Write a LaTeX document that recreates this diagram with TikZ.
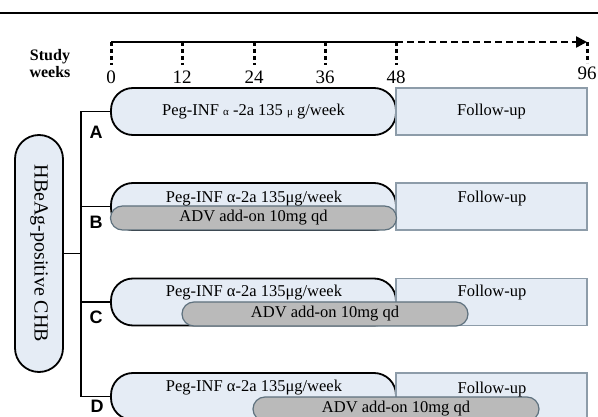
\documentclass[tikz,border=0pt]{standalone}
\usepackage{fontspec}
\setmainfont{Liberation Serif}
\setsansfont{Liberation Sans}
\usetikzlibrary{arrows.meta}
\definecolor{paleblue}{HTML}{E5ECF5}
\definecolor{fubord}{HTML}{8D9CA9}
\definecolor{advgray}{HTML}{BABABA}
\definecolor{advbord}{HTML}{5E717E}

\begin{document}
\begin{tikzpicture}[x=1pt, y=-1pt, line width=1.8pt,
    pegbox/.style = {draw, fill=paleblue, rounded corners=22pt, minimum width=285pt, minimum height=47pt, inner sep=0pt},
    fubox/.style = {draw=fubord, line width=1.2pt, fill=paleblue, minimum width=191pt, minimum height=47pt, inner sep=0pt},
    advbox/.style = {draw=advbord, line width=1.2pt, fill=advgray, rounded corners=12pt, minimum width=286pt, minimum height=24pt, inner sep=0pt},
    txt/.style = {font=\fontsize{16.5}{18}\selectfont, inner sep=0pt},
    armlabel/.style = {font=\sffamily\bfseries\fontsize{18}{20}\selectfont, inner sep=0pt},
    weeklabel/.style = {font=\fontsize{19}{20}\selectfont, inner sep=0pt},
    tickline/.style = {line width=3pt, dash pattern=on 4pt off 3pt}]
      \useasboundingbox (0,0) rectangle (598,417);
      \clip (0,0) rectangle (598,417);
      \draw [line width=2.2pt] (0,13) -- (598,13);
      \node [font=\bfseries\fontsize{16}{18}\selectfont, align=center, inner sep=0pt] (studyweeks) at (50,64) {Study\\[-1pt]weeks};
      \foreach \w/\x in {0/111, 12/182, 24/254, 36/325, 48/396}{
        \coordinate (t\w) at (\x,42);
        \draw [tickline] (t\w) -- ++(0,23);
        \node [weeklabel] (l\w) at (\x,77) {\w};
      }
      \coordinate (t96) at (587,42);
      \draw [tickline] (t96) -- ++(0,21);
      \node [weeklabel] (l96) at (587,73) {96};
      \draw [line width=2.8pt] (t0) -- (t48);
      \draw [line width=2.5pt, dash pattern=on 7pt off 4pt, -{Triangle[length=11pt, width=11pt]}] (t48) -- (t96);
      \node [pegbox] (pegA) at (253.5,111.5){};
      \node [pegbox] (pegB) at (253.5,206.5){};
      \node [pegbox] (pegC) at (253.5,302){};
      \node [pegbox] (pegD) at (253.5,396.5){};
      \node [fubox] (fuA) at (491.5,111.5){};
      \node [fubox] (fuB) at (491.5,206.5){};
      \node [fubox] (fuC) at (491.5,302){};
      \node [fubox] (fuD) at (491.5,396.5){};
      \node [advbox] (advB) at (253.5,218){};
      \node [advbox] (advC) at (325,314){};
      \node [advbox] (advD) at (396,409){};
      \node [txt] (pegAtxt) at (pegA) {Peg-INF {\fontsize{11}{12}\selectfont α} -2a 135 {\fontsize{11}{12}\selectfont μ} g/week};
      \node [txt] (pegBtxt) at (254,199) {Peg-INF α-2a 135μg/week};
      \node [txt] (pegCtxt) at (254,293) {Peg-INF α-2a 135μg/week};
      \node [txt] (pegDtxt) at (254,388) {Peg-INF α-2a 135μg/week};
      \node [txt] (fuAtxt) at (fuA) {Follow-up};
      \node [txt] (fuBtxt) at (492,199) {Follow-up};
      \node [txt] (fuCtxt) at (492,293) {Follow-up};
      \node [txt] (fuDtxt) at (492,390) {Follow-up};
      \node [txt] (advBtxt) at (advB) {ADV add-on 10mg qd};
      \node [txt] (advCtxt) at (advC) {ADV add-on 10mg qd};
      \node [txt] (advDtxt) at (advD) {ADV add-on 10mg qd};
      \node [draw, fill=paleblue, rounded corners=24pt, minimum width=48pt, minimum height=237pt, inner sep=0pt] (hbe) at (39,253.5){};
      \node [font=\fontsize{20}{22}\selectfont, rotate=-90, inner sep=0pt] (hbetxt) at (hbe) {HBeAg-positive CHB};
      \coordinate (spineA) at (81,111.5);
      \coordinate (spineD) at (81,396.5);
      \draw (spineA) -- (spineD);
      \draw (hbe.east) -- (hbe.east -| spineA);
      \draw (spineA) -- (pegA.west);
      \draw (pegB.west -| spineA) -- (pegB.west);
      \draw (pegC.west -| spineA) -- (pegC.west);
      \draw (spineD) -- (pegD.west);
      \node [armlabel] (armA) at (96,132) {A};
      \node [armlabel] (armB) at (96,222) {B};
      \node [armlabel] (armC) at (96,317) {C};
      \node [armlabel] (armD) at (97,406) {D};
    \end{tikzpicture}
\end{document}
